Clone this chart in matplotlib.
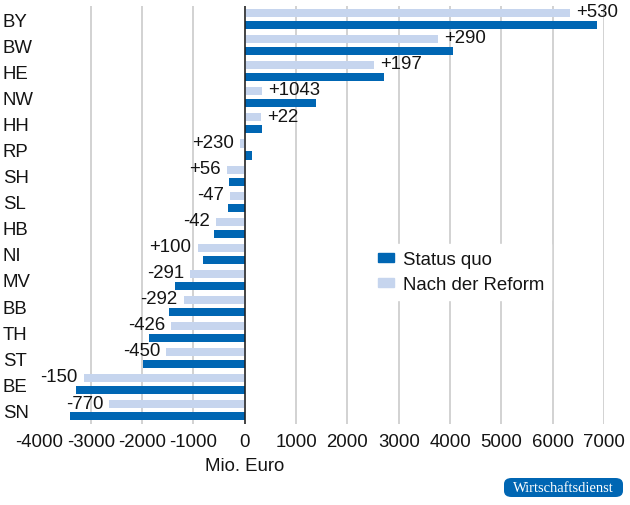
import numpy as np
import matplotlib
matplotlib.use("Agg")
import matplotlib.pyplot as plt
from matplotlib.transforms import blended_transform_factory, offset_copy
from matplotlib.patches import FancyBboxPatch, Patch

plt.rcParams['font.family'] = ['Liberation Sans', 'DejaVu Sans']
plt.rcParams['axes.unicode_minus'] = False

# ---- data ----
states = ["BY", "BW", "HE", "NW", "HH", "RP", "SH", "SL",
          "HB", "NI", "MV", "BB", "TH", "ST", "BE", "SN"]
status_quo = [6860, 4050, 2715, 1380, 340, 140, -300, -335,
              -595, -815, -1355, -1480, -1860, -1980, -3280, -3410]
reform = [6330, 3760, 2518, 337, 318, -90, -356, -288,
          -553, -915, -1064, -1188, -1434, -1530, -3135, -2637]
diff_labels = ["+530", "+290", "+197", "+1043", "+22", "+230", "+56", "-47",
               "-42", "+100", "-291", "-292", "-426", "-450", "-150", "-770"]
xtick_values = [-4000, -3000, -2000, -1000, 0, 1000, 2000, 3000, 4000, 5000, 6000, 7000]
xtick_labels = ["-4000", "-3000", "-2000", "-1000", "0", "1000", "2000",
                "3000", "4000", "5000", "6000", "7000"]

DARK = "#0066b3"
LIGHT = "#c6d5ee"
TXT = "#141414"
FS = 13.4

W, H = 630, 506
fig = plt.figure(figsize=(W / 100, H / 100), dpi=100)
left, right = 39.5 / W, 604 / W
top, bottom = 1 - 7 / H, 1 - 424.5 / H
ax = fig.add_axes([left, bottom, right - left, top - bottom])

y = np.arange(len(states))
off = 0.23
h = 0.31
ax.barh(y - off, reform, height=h, color=LIGHT, zorder=2, label="Nach der Reform")
ax.barh(y + off, status_quo, height=h, color=DARK, zorder=2, label="Status quo")

ax.set_xlim(-4000, 7000)
ax.set_ylim(len(states) - 0.5, -0.5)

ax.set_xticks(xtick_values)
ax.set_xticklabels(xtick_labels, fontsize=FS, color=TXT)
ax.set_yticks(y)
ax.set_yticklabels(states, fontsize=FS, color=TXT)
for lab in ax.get_yticklabels():
    lab.set_horizontalalignment("left")
ax.tick_params(axis="y", length=0, pad=(39.5 - 3) * 0.72)
ax.tick_params(axis="x", length=0, pad=6.6)

for s in ax.spines.values():
    s.set_visible(False)
ax.grid(axis="x", color="#c6c6c6", linewidth=1.1, zorder=0)
ax.set_axisbelow(True)
ax.axvline(0, color="#1e1e1e", linewidth=1.1, zorder=3)

# value labels
for yi, rv, lab in zip(y, reform, diff_labels):
    if rv >= 0:
        tr = offset_copy(ax.transData, fig=fig, x=4.5, y=1.0, units="points")
        ax.text(rv, yi - off, lab, transform=tr, ha="left", va="center",
                fontsize=FS, color=TXT, zorder=4)
    else:
        tr = offset_copy(ax.transData, fig=fig, x=-4.5, y=1.0, units="points")
        ax.text(rv, yi - off, lab, transform=tr, ha="right", va="center",
                fontsize=FS, color=TXT, zorder=4)

# legend
handles = [Patch(color=DARK, label="Status quo"), Patch(color=LIGHT, label="Nach der Reform")]
leg = ax.legend(handles=handles, loc="upper left",
                bbox_to_anchor=(371 / W, 1 - 245 / H), bbox_transform=fig.transFigure,
                frameon=True, fancybox=False, framealpha=1, facecolor="white",
                edgecolor="white", fontsize=FS, handlelength=0.81, handleheight=0.38,
                handletextpad=0.49, labelspacing=0.4, borderpad=0.4, borderaxespad=0)
for t in leg.get_texts():
    t.set_color(TXT)
leg.set_zorder(5)

# x axis title centred on zero
ax.text(0, 1 - 467 / H, "Mio. Euro", transform=blended_transform_factory(ax.transData, fig.transFigure),
        ha="center", va="center", fontsize=FS, color=TXT)

# logo
box = FancyBboxPatch((504 / W, 1 - 498 / H), 119 / W, 19 / H,
                     boxstyle="round,pad=0,rounding_size=0.012",
                     transform=fig.transFigure, facecolor=DARK, edgecolor="none")
fig.patches.append(box)
fig.text((504 + 119 / 2) / W, 1 - 488.5 / H, "Wirtschaftsdienst", ha="center", va="center",
         fontsize=10.5, color="white", family=["Liberation Serif", "DejaVu Serif"])

fig.savefig("out.png", dpi=100)
